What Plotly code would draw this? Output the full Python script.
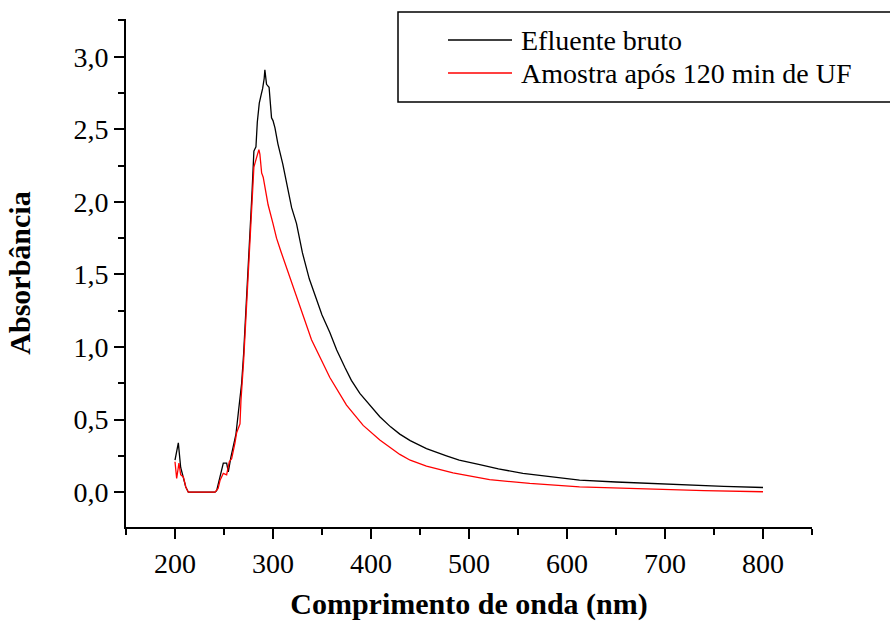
import plotly.graph_objects as go

# Efluente bruto
wl_bruto = [200, 201.5, 203.4, 205.8, 208.5, 211, 213.6, 220, 230, 240.8, 242.5, 245, 247.6, 249.3,
            252.7, 254.4, 257, 259.4, 262.2, 264.5, 266.3, 268, 270, 272, 274, 276.5, 278.5, 280.5,
            282.6, 284, 286, 288, 289.4, 291, 291.7, 293.4, 296, 298.5, 300, 302, 305, 310, 317, 319,
            324, 330, 337, 344.4, 350, 358, 365, 373.3, 380, 388.6, 400, 409, 420, 429.4, 440, 456.6,
            477, 490, 511, 530, 555, 580, 612.8, 650, 684, 720, 760, 800]
abs_bruto = [0.22, 0.28, 0.34, 0.17, 0.105, 0.036, 0.0, 0.0, 0.0, 0.0, 0.01, 0.08, 0.16, 0.20,
             0.20, 0.14, 0.24, 0.32, 0.40, 0.54, 0.63, 0.75, 0.95, 1.2, 1.45, 1.73, 2.05, 2.35,
             2.38, 2.55, 2.68, 2.74, 2.78, 2.85, 2.91, 2.81, 2.79, 2.58, 2.56, 2.51, 2.40, 2.26, 2.03, 1.96,
             1.85, 1.65, 1.47, 1.32, 1.22, 1.10, 0.98, 0.86, 0.77, 0.68, 0.59, 0.52, 0.45, 0.40, 0.355, 0.30,
             0.25, 0.22, 0.19, 0.16, 0.13, 0.11, 0.083, 0.07, 0.06, 0.05, 0.04, 0.032]

# Amostra após 120 min de UF
wl_uf = [200, 201.7, 204, 205.8, 208.5, 211, 213.6, 220, 230, 240.8, 244, 245.9, 249.3, 252.7,
         255.4, 257.8, 261.2, 262.9, 266.3, 267.3, 270, 272, 274, 277, 279, 280.5, 283, 285.6,
         286.6, 288.4, 290, 291.7, 295, 300, 303.6, 308, 315.5, 327.4, 339.3, 358, 375, 392, 409,
         429.4, 440, 456.6, 483.7, 521, 562, 612.8, 684, 740, 800]
abs_uf = [0.21, 0.094, 0.20, 0.12, 0.105, 0.036, 0.0, 0.0, 0.0, 0.0, 0.025, 0.08, 0.13, 0.12,
          0.21, 0.23, 0.34, 0.41, 0.47, 0.63, 0.9, 1.15, 1.4, 1.73, 2.0, 2.24, 2.30, 2.36,
          2.33, 2.20, 2.17, 2.10, 1.98, 1.85, 1.75, 1.66, 1.51, 1.28, 1.05, 0.79, 0.60, 0.46, 0.36,
          0.26, 0.22, 0.18, 0.133, 0.087, 0.06, 0.037, 0.02, 0.01, 0.003]

x_ticks = [200, 300, 400, 500, 600, 700, 800]
x_ticklabels = ["200", "300", "400", "500", "600", "700", "800"]
y_ticks = [0.0, 0.5, 1.0, 1.5, 2.0, 2.5, 3.0]
y_ticklabels = ["0,0", "0,5", "1,0", "1,5", "2,0", "2,5", "3,0"]

names = ["Efluente bruto", "Amostra após 120 min de UF"]
colors = ["#000000", "#ff0000"]

FONT = "Times New Roman, Times, Liberation Serif, serif"

fig = go.Figure()
fig.add_trace(go.Scatter(x=wl_bruto, y=abs_bruto, mode="lines", name=names[0],
                         line=dict(color=colors[0], width=1.3), showlegend=False))
fig.add_trace(go.Scatter(x=wl_uf, y=abs_uf, mode="lines", name=names[1],
                         line=dict(color=colors[1], width=1.3), showlegend=False))

axis_common = dict(showline=True, linecolor="black", linewidth=2, ticks="outside",
                   tickcolor="black", tickwidth=1.5, ticklen=10, showgrid=False, zeroline=False,
                   tickfont=dict(family=FONT, size=28, color="black"), mirror=False,
                   automargin=False)

fig.update_xaxes(range=[150, 850], tickvals=x_ticks, ticktext=x_ticklabels,
                 minor=dict(dtick=50, tick0=150, ticks="outside", ticklen=6, tickcolor="black", tickwidth=1.5),
                 title=dict(text="<b>Comprimento de onda (nm)</b>",
                            font=dict(family=FONT, size=30, color="black"), standoff=15),
                 **axis_common)
fig.update_yaxes(range=[-0.24, 3.26], tickvals=y_ticks, ticktext=y_ticklabels,
                 minor=dict(dtick=0.25, tick0=0, ticks="outside", ticklen=6, tickcolor="black", tickwidth=1.5),
                 title=dict(text="<b>Absorbância</b>",
                            font=dict(family=FONT, size=30, color="black"), standoff=34),
                 **axis_common)

# legend (drawn by hand to match the reference frame)
PW = 686.0
PH = 508.0
def px_x(p):
    return (p - 126) / PW
def px_y(p):
    return (527 - p) / PH

fig.add_shape(type="rect", xref="paper", yref="paper", x0=px_x(398), x1=px_x(900),
              y0=px_y(102), y1=px_y(12),
              line=dict(color="black", width=1.5), fillcolor="rgba(0,0,0,0)", layer="above")
legend_rows = [40, 73]
for name, col, row in zip(names, colors, legend_rows):
    fig.add_shape(type="line", xref="paper", yref="paper", x0=px_x(448), x1=px_x(512),
                  y0=px_y(row), y1=px_y(row), line=dict(color=col, width=1.3))
    fig.add_annotation(xref="paper", yref="paper", x=px_x(519), y=px_y(row), text=name,
                       showarrow=False, xanchor="left", yanchor="middle",
                       font=dict(family=FONT, size=28, color="black"))

fig.update_layout(
    width=890, height=621,
    margin=dict(l=126, r=78, t=19, b=94, autoexpand=False),
    paper_bgcolor="white", plot_bgcolor="white",
    showlegend=False,
)

fig.write_html("out.html")
